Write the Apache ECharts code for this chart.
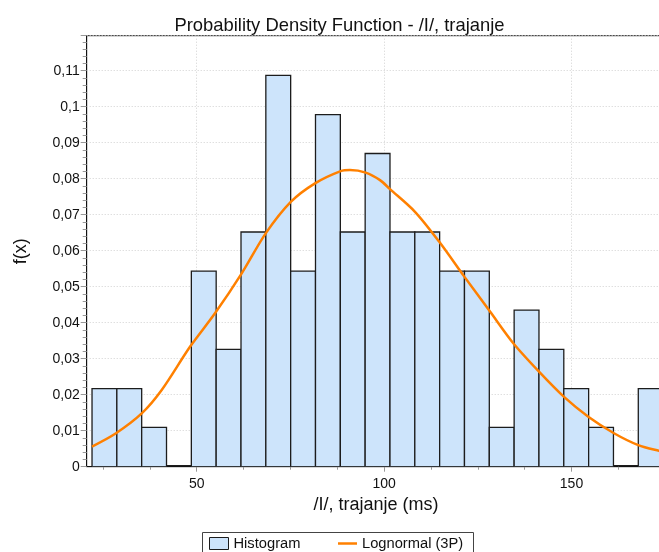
<!DOCTYPE html>
<html>
<head>
<meta charset="utf-8">
<script src="https://cdn.jsdelivr.net/npm/echarts@6/dist/echarts.min.js"></script>
<style>
  html, body { margin: 0; padding: 0; background: #fff; }
  #chart { width: 659px; height: 552px; }
</style>
</head>
<body>
<div id="chart"></div>
<script>
// Histogram of /I/ durations (ms): equal-width bins, density per bin
const binStart = 22.07;
const binWidth = 6.625;
const binDensity = [
  0.0217, 0.0217, 0.0109, 0, 0.0543, 0.0326, 0.0652, 0.1087, 0.0543, 0.0978,
  0.0652, 0.0870, 0.0652, 0.0652, 0.0543, 0.0543, 0.0109, 0.0435, 0.0326,
  0.0217, 0.0109, 0, 0.0217
];

// Fitted Lognormal (3P) density, sampled along the duration axis
const curveX = [22.07, 28.47, 35.33, 40.66, 48.21, 54.88, 62.01, 68.41, 75.16, 81.56,
  88.42, 90.90, 95.09, 98.91, 101.57, 108.24, 114.91, 121.40, 128.26, 134.47,
  141.33, 148.00, 154.48, 161.34, 167.82, 173.34, 175];
const curveY = [0.0056, 0.0093, 0.0148, 0.0213, 0.0333, 0.0426, 0.0537, 0.0648, 0.0736, 0.0787,
  0.0821, 0.0824, 0.0817, 0.0796, 0.0771, 0.0708, 0.0622, 0.0528, 0.0431, 0.0343,
  0.0264, 0.0194, 0.0139, 0.0093, 0.0060, 0.0044, 0.0041];

// Axis ticks
const xLabelValues = [50, 100, 150];
const xMinorValues = [25, 37.5, 62.5, 75, 87.5, 112.5, 125, 137.5, 162.5];

const histData = binDensity.map((d, i) => [binStart + i * binWidth, binStart + (i + 1) * binWidth, d]);
const curveData = curveX.map((x, i) => [x, curveY[i]]);

const FONT = 'Liberation Sans, Arial, sans-serif';
const HIST_FILL = '#cde4fb';
const HIST_EDGE = '#1c1c1c';
const CURVE = '#ff8000';

const fmtComma = v => {
  if (v > 0.1155) return '';
  return String(+v.toFixed(2)).replace('.', ',');
};

const chart = echarts.init(document.getElementById('chart'), null, { renderer: 'canvas' });

chart.setOption({
  animation: false,
  backgroundColor: '#fff',
  textStyle: { fontFamily: FONT },
  title: {
    text: 'Probability Density Function - /I/, trajanje',
    left: 334.5,
    textAlign: 'center',
    top: 11.5,
    textStyle: { fontFamily: FONT, fontSize: 18.4, fontWeight: 'normal', color: '#111' }
  },
  grid: {
    left: 86.7,
    top: 35.7,
    width: 578.5,
    height: 431,
    outerBoundsMode: 'none',
    containLabel: false,
    show: true,
    borderColor: '#222',
    borderWidth: 1,
    backgroundColor: '#fff'
  },
  legend: [
    {
      left: 209, top: 536, padding: 0,
      itemWidth: 19, itemHeight: 12,
      textStyle: { fontFamily: FONT, fontSize: 14.7, color: '#111' },
      data: [{ name: 'Histogram', icon: 'rect', itemStyle: { color: HIST_FILL, borderColor: HIST_EDGE, borderWidth: 1 } }]
    },
    {
      left: 338, top: 536, padding: 0,
      itemWidth: 19, itemHeight: 2.5,
      textStyle: { fontFamily: FONT, fontSize: 14.7, color: '#111' },
      data: [{ name: 'Lognormal (3P)', icon: 'rect', itemStyle: { color: CURVE, borderWidth: 0 } }]
    }
  ],
  graphic: [
    {
      type: 'rect',
      shape: { x: 202.5, y: 532.5, width: 271, height: 30 },
      style: { fill: 'none', stroke: '#444', lineWidth: 1 },
      silent: true
    }
  ],
  xAxis: [
    {
      type: 'value',
      min: 20.65,
      max: 175,
      name: '/I/, trajanje (ms)',
      nameLocation: 'middle',
      nameGap: 27,
      nameTextStyle: { fontFamily: FONT, fontSize: 18, color: '#111' },
      axisLine: { show: true, onZero: false, lineStyle: { color: '#111', width: 1 } },
      axisTick: { show: true, length: 5, customValues: xLabelValues, lineStyle: { color: '#999' } },
      axisLabel: { customValues: xLabelValues, fontFamily: FONT, fontSize: 14, color: '#111', margin: 10 },
      splitLine: { show: true, lineStyle: { color: '#d0d0d0', type: [1, 2], width: 1 } }
    },
    {
      type: 'value',
      min: 20.65,
      max: 175,
      position: 'bottom',
      axisLine: { show: false },
      axisTick: { show: true, length: 3, customValues: xMinorValues, lineStyle: { color: '#999' } },
      axisLabel: { show: false },
      splitLine: { show: false }
    }
  ],
  yAxis: {
    type: 'value',
    min: 0,
    max: 0.11972,
    interval: 0.01,
    name: 'f(x)',
    nameLocation: 'middle',
    nameGap: 57,
    nameTextStyle: { fontFamily: FONT, fontSize: 18, color: '#111' },
    axisLine: { show: true, lineStyle: { color: '#111', width: 1 } },
    axisTick: { show: true, length: 6, lineStyle: { color: '#999' } },
    minorTick: { show: true, splitNumber: 5, length: 4, lineStyle: { color: '#999' } },
    axisLabel: { fontFamily: FONT, fontSize: 14, color: '#111', margin: 7, showMaxLabel: false, formatter: fmtComma },
    splitLine: { show: true, lineStyle: { color: '#d0d0d0', type: [1, 2], width: 1 } }
  },
  series: [
    {
      name: 'Histogram',
      type: 'custom',
      xAxisIndex: 0,
      clip: true,
      encode: { x: [0, 1], y: 2 },
      itemStyle: { color: HIST_FILL, borderColor: HIST_EDGE },
      data: histData,
      renderItem(params, api) {
        const topLeft = api.coord([api.value(0), api.value(2)]);
        const bottomRight = api.coord([api.value(1), 0]);
        const h = bottomRight[1] - topLeft[1];
        if (h < 1) {
          // empty bin: only its outline edge remains visible
          return {
            type: 'line',
            shape: { x1: topLeft[0], y1: bottomRight[1] - 1, x2: bottomRight[0], y2: bottomRight[1] - 1 },
            style: { stroke: HIST_EDGE, lineWidth: 1.3 }
          };
        }
        return {
          type: 'rect',
          shape: { x: topLeft[0], y: topLeft[1], width: bottomRight[0] - topLeft[0], height: h },
          style: { fill: HIST_FILL, stroke: HIST_EDGE, lineWidth: 1.3 }
        };
      },
      z: 2
    },
    {
      name: 'Lognormal (3P)',
      type: 'line',
      xAxisIndex: 0,
      data: curveData,
      smooth: 0.3,
      symbol: 'none',
      clip: true,
      lineStyle: { color: CURVE, width: 2.5 },
      itemStyle: { color: CURVE },
      z: 3
    }
  ]
});
</script>
</body>
</html>
